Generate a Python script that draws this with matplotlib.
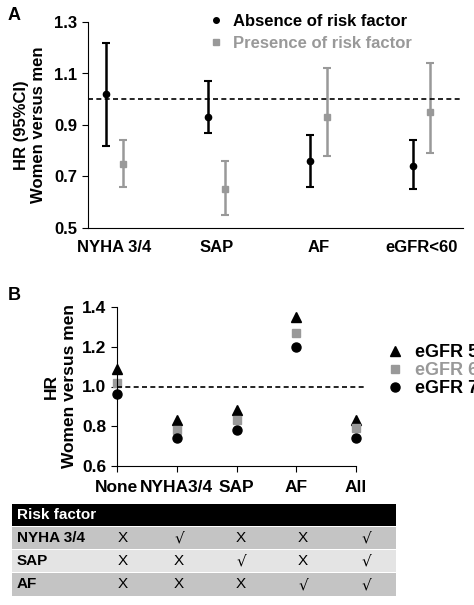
import matplotlib
matplotlib.use("Agg")
import matplotlib.pyplot as plt
from matplotlib.patches import Rectangle
from matplotlib.lines import Line2D
import numpy as np

plt.rcParams['font.family'] = ['Liberation Sans', 'DejaVu Sans']
plt.rcParams['font.weight'] = 'bold'

# Panel A data
catsA = ["NYHA 3/4", "SAP", "AF", "eGFR<60"]
absent = [1.02, 0.93, 0.76, 0.74]
absent_lo = [0.82, 0.87, 0.66, 0.65]
absent_hi = [1.22, 1.07, 0.86, 0.84]
present = [0.75, 0.65, 0.93, 0.95]
present_lo = [0.66, 0.55, 0.78, 0.79]
present_hi = [0.84, 0.76, 1.12, 1.14]

# Panel B data
catsB = ["None", "NYHA3/4", "SAP", "AF", "All"]
egfr50 = [1.09, 0.83, 0.88, 1.35, 0.83]
egfr60 = [1.02, 0.78, 0.83, 1.27, 0.79]
egfr70 = [0.96, 0.74, 0.78, 1.20, 0.74]

# Table
row_labels = ["NYHA 3/4", "SAP", "AF"]
table = [["X", "√", "X", "X", "√"],
         ["X", "X", "√", "X", "√"],
         ["X", "X", "X", "√", "√"]]

W, H = 474, 605
fig = plt.figure(figsize=(W/100, H/100), dpi=100)
GRAY = "#999999"

def fx(px): return px / W
def fy(py): return 1 - py / H

# ---- Panel A
axA = fig.add_axes([fx(88), fy(228), fx(463) - fx(88), fy(22) - fy(228)])
x = np.arange(len(catsA))
off = 0.083
a = np.array(absent); p = np.array(present)
axA.errorbar(x - off, a, yerr=[a - np.array(absent_lo), np.array(absent_hi) - a],
             fmt='o', color='black', ms=4.5, capsize=3, elinewidth=1.8, capthick=1.5)
axA.errorbar(x + off, p, yerr=[p - np.array(present_lo), np.array(present_hi) - p],
             fmt='s', color=GRAY, ms=4.5, capsize=3, elinewidth=1.8, capthick=1.5)
axA.axhline(1.0, color='black', ls='--', lw=1.2, dashes=(3, 2))
axA.set_xlim(-0.26, 3.41)
axA.set_ylim(0.5, 1.3)
axA.set_yticks([0.5, 0.7, 0.9, 1.1, 1.3])
axA.set_yticklabels(["0.5", "0.7", "0.9", "1.1", "1.3"])
axA.set_xticks(x)
axA.set_xticklabels(catsA)
axA.tick_params(axis='x', length=0, labelsize=12, pad=9)
axA.tick_params(axis='y', labelsize=12, direction='out', length=4)
for s in ['top', 'right']:
    axA.spines[s].set_visible(False)
axA.set_ylabel("HR (95%CI)\nWomen versus men", fontsize=12, fontweight='bold', labelpad=6)
handlesA = [Line2D([], [], marker='o', color='black', ls='none', ms=4),
            Line2D([], [], marker='s', color=GRAY, ls='none', ms=4)]
legA = axA.legend(handlesA, ["Absence of risk factor", "Presence of risk factor"],
                  loc='upper left', bbox_to_anchor=(0.31, 1.07), frameon=False,
                  fontsize=12, handlelength=0.6, handletextpad=0.7, borderaxespad=0,
                  labelspacing=0.4)
for t, c in zip(legA.get_texts(), ['black', GRAY]):
    t.set_color(c)
fig.text(fx(8), fy(16), "A", fontsize=13, fontweight='bold', va='center')

# ---- Panel B
axB = fig.add_axes([fx(117), fy(466), fx(365) - fx(117), fy(307) - fy(466)])
xb = np.arange(len(catsB))
axB.plot(xb, egfr50, '^', color='black', ms=6.5, ls='none', label='eGFR 50', clip_on=False)
axB.plot(xb, egfr60, 's', color=GRAY, ms=5.5, ls='none', label='eGFR 60', clip_on=False)
axB.plot(xb, egfr70, 'o', color='black', ms=6.5, ls='none', label='eGFR 70', clip_on=False)
axB.axhline(1.0, color='black', ls='--', lw=1.2, dashes=(3, 2))
axB.set_xlim(0, 4.15)
axB.set_ylim(0.6, 1.4)
axB.set_yticks([0.6, 0.8, 1.0, 1.2, 1.4])
axB.set_yticklabels(["0.6", "0.8", "1.0", "1.2", "1.4"])
axB.set_xticks(xb)
axB.set_xticklabels(catsB)
axB.spines['bottom'].set_bounds(0, 4)
for s in ['top', 'right']:
    axB.spines[s].set_visible(False)
axB.tick_params(axis='both', labelsize=12.5, direction='out', length=4)
axB.tick_params(axis='x', pad=6)
axB.set_ylabel("HR\nWomen versus men", fontsize=12.5, fontweight='bold', labelpad=4)
legB = axB.legend(loc='center left', bbox_to_anchor=(1.07, 0.6), frameon=False,
                  fontsize=13, handlelength=0.6, handletextpad=0.8, borderaxespad=0,
                  labelspacing=0.05)
for t, c in zip(legB.get_texts(), ['black', GRAY, 'black']):
    t.set_color(c)
fig.text(fx(8), fy(296), "B", fontsize=13, fontweight='bold', va='center')

# ---- Table
tx0, tx1 = 12, 396
rows_y = [(504, 526), (527, 549), (550, 572), (573, 596)]
colors = ['black', '#c4c4c4', '#e4e4e4', '#c4c4c4']
for (y0, y1), col in zip(rows_y, colors):
    fig.add_artist(Rectangle((fx(tx0), fy(y1)), fx(tx1) - fx(tx0), fy(y0) - fy(y1),
                             transform=fig.transFigure, facecolor=col, edgecolor='none'))
fig.text(fx(17), fy(515), "Risk factor", color='white', fontsize=11, fontweight='bold', va='center')
col_x = [123, 179, 241, 303, 366]
for i, lab in enumerate(row_labels):
    yc = (rows_y[i + 1][0] + rows_y[i + 1][1]) / 2
    fig.text(fx(17), fy(yc), lab, fontsize=11, fontweight='bold', va='center')
    for j, v in enumerate(table[i]):
        fig.text(fx(col_x[j]), fy(yc), v, fontsize=11, fontweight='normal',
                 va='center', ha='center', family=['DejaVu Sans'] if v == "√" else None)

fig.savefig("out.png", dpi=100)
